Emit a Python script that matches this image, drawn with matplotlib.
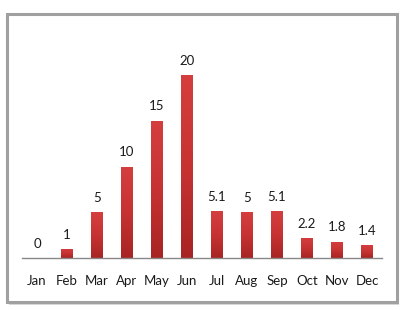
import numpy as np
import matplotlib
matplotlib.use("Agg")
import matplotlib.pyplot as plt
from matplotlib.patches import Rectangle
from matplotlib.colors import LinearSegmentedColormap

months = ["Jan", "Feb", "Mar", "Apr", "May", "Jun",
          "Jul", "Aug", "Sep", "Oct", "Nov", "Dec"]
values = [0, 1, 5, 10, 15, 20, 5.1, 5, 5.1, 2.2, 1.8, 1.4]
labels = ["0", "1", "5", "10", "15", "20", "5.1", "5", "5.1", "2.2", "1.8", "1.4"]

plt.rcParams['font.family'] = ['Lato', 'DejaVu Sans']

W, H = 402, 310
fig = plt.figure(figsize=(W / 100, H / 100), dpi=100)
fig.patch.set_facecolor("white")

# frame with shadow
fig.patches.append(Rectangle((9 / W, 1 - 305 / H), 390 / W, 289 / H, transform=fig.transFigure,
                             facecolor="#d8d8d8", edgecolor="none", zorder=0))
fig.patches.append(Rectangle((7 / W, 1 - 302 / H), 390 / W, 288 / H, transform=fig.transFigure,
                             facecolor="white", edgecolor="#a0a0a0", linewidth=2.2, zorder=1))

ax = fig.add_axes([22 / W, (H - 258) / H, 360 / W, (258 - 30) / H])
ax.set_zorder(2)
ax.patch.set_alpha(0)

x = np.arange(len(months))
bars = ax.bar(x, values, width=0.4, color="none", edgecolor="none")

cmap = LinearSegmentedColormap.from_list("red", ["#a82424", "#c73333", "#d43e3e"])
grad = np.linspace(0, 1, 100).reshape(-1, 1)
for b in bars:
    h = b.get_height()
    if h <= 0:
        continue
    im = ax.imshow(grad, cmap=cmap, origin="lower", aspect="auto",
                   extent=(b.get_x(), b.get_x() + b.get_width(), 0, h), zorder=2)
    im.set_clip_path(b)

for xi, v, lab in zip(x, values, labels):
    ax.annotate(lab, (xi, v), xytext=(0, 6), textcoords="offset points",
                ha="center", va="bottom", fontsize=9.5, color="#1a1a1a")

ax.set_xlim(-0.5, 11.5)
ax.set_ylim(0, (258 - 30) / 9.15)
ax.set_xticks(x)
ax.set_xticklabels(months, fontsize=9.5, color="#1a1a1a")
ax.tick_params(axis="x", length=0, pad=12)
ax.set_yticks([])
for s in ["top", "right", "left"]:
    ax.spines[s].set_visible(False)
ax.spines["bottom"].set_color("#888888")
ax.spines["bottom"].set_linewidth(1)

fig.savefig("out.png", dpi=100)
